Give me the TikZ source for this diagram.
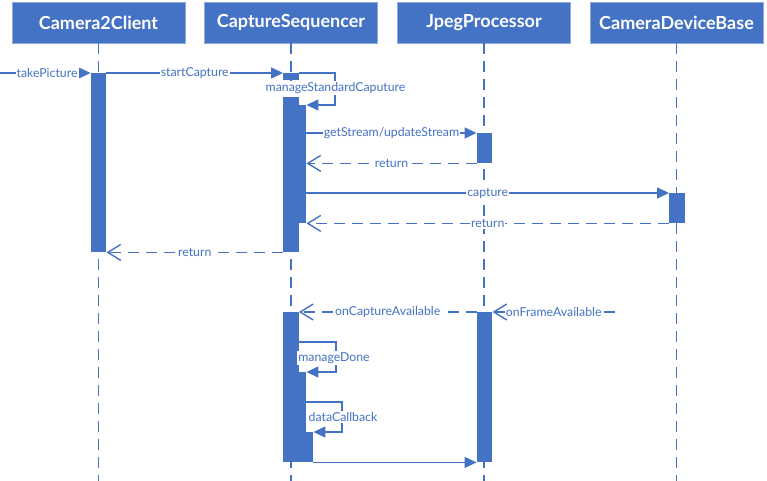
\documentclass[tikz,border=0pt]{standalone}
\usepackage{fontspec}
\setmainfont{Lato}
\usetikzlibrary{arrows.meta}
\definecolor{ob}{HTML}{4472C4}
\definecolor{obl}{HTML}{8FAADC}
\begin{document}
\begin{tikzpicture}[x=1pt,y=-1pt,
  hdr/.style={draw=obl, line width=0.8pt, fill=ob, text=white, font=\bfseries\fontsize{18}{21}\selectfont, minimum width=173pt, minimum height=41pt, inner sep=0pt},
  life/.style={draw=ob, line width=1.4pt, dash pattern=on 11pt off 7pt},
  actbar/.style={fill=ob, draw=none, minimum width=15.5pt, inner sep=0pt, anchor=north},
  msg/.style={draw=ob, line width=1.4pt, -{Triangle[length=12pt,width=11pt]}},
  ret/.style={draw=ob, line width=1.4pt, dash pattern=on 11pt off 7pt, -{Straight Barb[length=13pt,width=16pt,line width=1.4pt]}},
  lbl/.style={fill=white, text=ob, inner sep=1pt, font=\fontsize{12.3}{14}\selectfont},
]
\useasboundingbox (0,0) rectangle (767,481);
% headers
\node[hdr] (h1) at (98.5,22.5) {Camera2Client};
\node[hdr] (h2) at (291,22.5) {CaptureSequencer};
\node[hdr] (h3) at (484,22.5) {JpegProcessor};
\node[hdr] (h4) at (676.5,22.5) {CameraDeviceBase};
% lifelines
\coordinate (e1) at (98.5,481);
\coordinate (e2) at (291,481);
\coordinate (e3) at (484,481);
\coordinate (e4) at (676.5,481);
\draw[life] (h1.south) -- (e1);
\draw[life] (h2.south) -- (e2);
\draw[life] (h3.south) -- (e3);
\draw[life] (h4.south) -- (e4);
% activation bars
\node[actbar, minimum height=179pt] (b1) at (98.5,73) {};
\node[actbar, minimum height=7pt] (cs0) at (291,73) {};
\node[actbar, minimum height=155pt] (cs1) at (291,97) {};
\node[actbar, minimum height=118pt] (cs2) at (298.5,105) {};
\node[actbar, minimum height=30pt] (jp1) at (484.5,133) {};
\node[actbar, minimum height=30pt] (cdb) at (677,193) {};
\node[actbar, minimum height=150pt] (cs3) at (291,312) {};
\node[actbar, minimum height=90pt] (cs4) at (298.5,372) {};
\node[actbar, minimum height=30pt] (cs5) at (305.5,432) {};
\node[actbar, minimum height=150pt] (jp2) at (484.5,312) {};
% messages, first part
\coordinate (tp) at (0,73);
\draw[msg] (tp) -- (b1.north west) node[lbl, pos=0.52] {takePicture};
\draw[msg] (b1.north east) -- (cs0.north west) node[lbl, midway] {startCapture};
\draw[msg] (cs0.north east) -- ++(36,0) |- (cs2.north east);
\node[lbl] (msc) at (335.5,88) {manageStandardCaputure};
\draw[msg] (cs2.east |- jp1.north) -- (jp1.north west) node[lbl, midway] {getStream/updateStream};
\draw[ret] (jp1.south west) -- (cs2.east |- jp1.south) node[lbl, midway] {return};
\draw[msg] (cs2.east |- cdb.north) -- (cdb.north west) node[lbl, midway] {capture};
\draw[ret] (cdb.south west) -- (cs2.south east) node[lbl, midway] {return};
\draw[ret] (cs1.south west) -- (b1.south east) node[lbl, midway] {return};
% messages, second part
\draw[ret] (jp2.north west) -- (cs3.north east) node[lbl, midway] {onCaptureAvailable};
\coordinate (ofa) at (615,312);
\draw[ret] (ofa) -- (jp2.north east) node[lbl, midway] {onFrameAvailable};
\coordinate (md) at (299,342);
\draw[msg] (md) -- ++(37,0) |- (cs4.north east);
\node[lbl] (mdl) at (334,358) {manageDone};
\coordinate (dc) at (306,402);
\draw[msg] (dc) -- ++(36,0) |- (cs5.north east);
\node[lbl] (dcl) at (343,417) {dataCallback};
\draw[msg] (cs5.south east) -- (jp2.south west);
\end{tikzpicture}
\end{document}
